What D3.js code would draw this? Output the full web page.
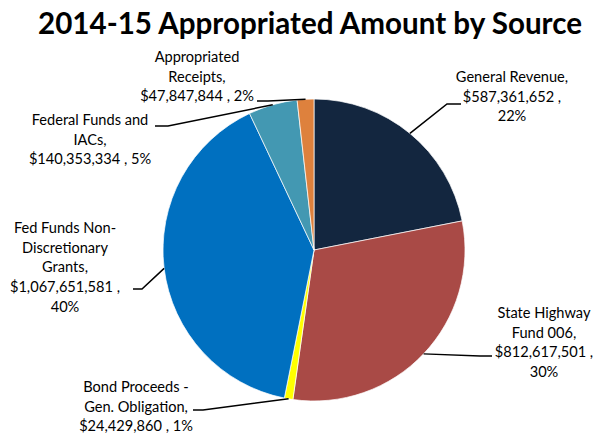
<!DOCTYPE html>
<html>
<head>
<meta charset="utf-8">
<script src="https://cdn.jsdelivr.net/npm/d3@7"></script>
<style>
  body { margin: 0; background: #fff; }
  svg text { font-family: Lato, "Noto Sans", sans-serif; fill: #000; }
</style>
</head>
<body>
<div id="chart"></div>
<script>
// Source categories, clockwise from 12 o'clock
const sources = [
    "General Revenue",
    "State Highway Fund 006",
    "Bond Proceeds - Gen. Obligation",
    "Fed Funds Non-Discretionary Grants",
    "Federal Funds and IACs",
    "Appropriated Receipts"
];
const amounts = [587361652, 812617501, 24429860, 1067651581, 140353334, 47847844];
const percents = ["22%", "30%", "1%", "40%", "5%", "2%"];

// Label text as it wraps in the original
const labelLines = [
    ["General Revenue,", "$587,361,652 ,", "22%"],
    ["State Highway", "Fund 006,", "$812,617,501 ,", "30%"],
    ["Bond Proceeds -", "Gen. Obligation,", "$24,429,860 , 1%"],
    ["Fed Funds Non-", "Discretionary", "Grants,", "$1,067,651,581 ,", "40%"],
    ["Federal Funds and", "IACs,", "$140,353,334 , 5%"],
    ["Appropriated", "Receipts,", "$47,847,844 , 2%"]
];
const colors = ["#13263f", "#a94a46", "#ffff00", "#0070c0", "#4398b2", "#de813d"];

const width = 593, height = 434;
const cx = 314, cy = 250, radius = 151;

const svg = d3.select("#chart").append("svg")
    .attr("width", width)
    .attr("height", height);

// Title, stretched to the width it has in the original
const title = svg.append("text")
    .attr("x", 310)
    .attr("y", 34)
    .attr("text-anchor", "middle")
    .style("font-weight", "bold")
    .style("font-size", "29px")
    .text("2014-15 Appropriated Amount by Source");
const tw = title.node().getComputedTextLength();
title.style("font-size", (29 * 544 / tw) + "px");

const pie = d3.pie().sort(null).value(d => d);
const arcs = pie(amounts);
const arc = d3.arc().innerRadius(0).outerRadius(radius);

const g = svg.append("g").attr("transform", `translate(${cx},${cy})`);
g.selectAll("path.slice")
    .data(arcs)
    .enter()
    .append("path")
    .attr("class", "slice")
    .attr("d", arc)
    .attr("fill", (d, i) => colors[i])
    .attr("stroke", "#fff")
    .attr("stroke-width", 0.7);

// Label placement (layout only): text centre x, first line y, leader elbow and end
const layout = [
    {x: 512, y: 82, elbow: [447, 104], end: [461, 104]},
    {x: 544, y: 318, elbow: [480, 356], end: [492, 356]},
    {x: 136, y: 392, elbow: [203, 410], end: [193, 410]},
    {x: 65, y: 233, elbow: [142, 289], end: [133, 289]},
    {x: 90, y: 125, elbow: [168, 126], end: [155, 126]},
    {x: 197, y: 62, elbow: [268, 101], end: [257, 101]}
];
const lineH = 19.7;

arcs.forEach((d, i) => {
    const mid = (d.startAngle + d.endAngle) / 2;
    const p0 = [cx + radius * Math.sin(mid), cy - radius * Math.cos(mid)];
    const L = layout[i];
    svg.append("polyline")
        .attr("points", [p0, L.elbow, L.end].map(p => p.join(",")).join(" "))
        .attr("fill", "none")
        .attr("stroke", "#000")
        .attr("stroke-width", 1.5);
    const t = svg.append("text")
        .attr("text-anchor", "middle")
        .style("font-size", "14.6px");
    labelLines[i].forEach((ln, j) => {
        t.append("tspan")
            .attr("x", L.x)
            .attr("y", L.y + j * lineH)
            .text(ln);
    });
});
</script>
</body>
</html>
